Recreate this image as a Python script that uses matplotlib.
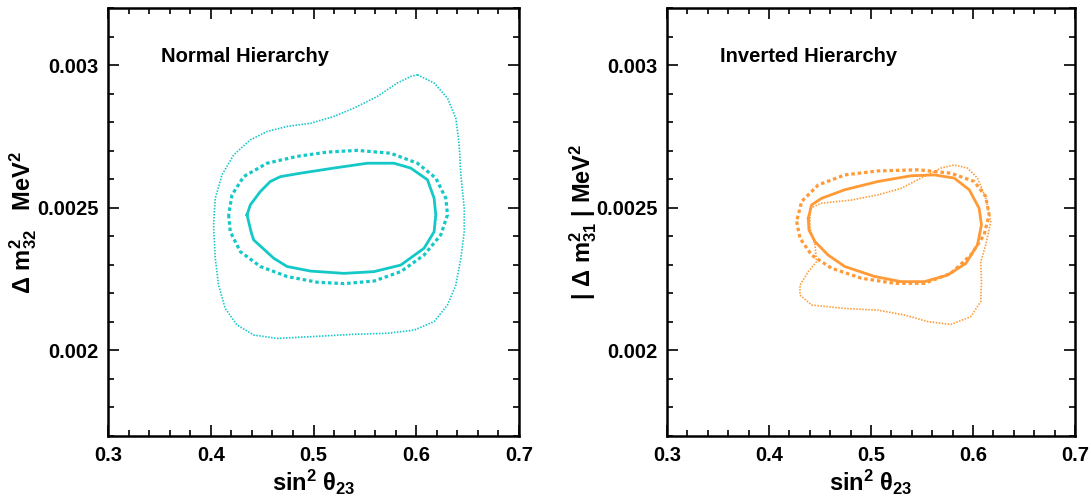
import numpy as np
import matplotlib
matplotlib.use("Agg")
import matplotlib.pyplot as plt
from matplotlib.ticker import MultipleLocator, FuncFormatter

plt.rcParams['font.family'] = ['Liberation Sans', 'DejaVu Sans']
plt.rcParams['font.weight'] = 'bold'
plt.rcParams['mathtext.fontset'] = 'custom'
plt.rcParams['mathtext.rm'] = 'Liberation Sans'
plt.rcParams['mathtext.it'] = 'Liberation Sans'
plt.rcParams['mathtext.bf'] = 'Liberation Sans:bold'

# contour points: sin^2(theta23), dm^2 [1e-3 eV^2]
# normal hierarchy
nh_solid_x = [0.4353, 0.4385, 0.4483, 0.458, 0.4678, 0.4873, 0.5198, 0.5524, 0.5783, 0.5946,
              0.6109, 0.6174, 0.619, 0.6174, 0.6076, 0.5849, 0.5588, 0.5296, 0.4971, 0.4743,
              0.4613, 0.4418, 0.4392]
nh_solid_y = [2.475, 2.510, 2.557, 2.592, 2.609, 2.621, 2.639, 2.656, 2.656, 2.639,
              2.598, 2.533, 2.475, 2.416, 2.358, 2.299, 2.276, 2.270, 2.278, 2.294,
              2.323, 2.387, 2.416]
nh_dash_x = [0.4174, 0.419, 0.4288, 0.4483, 0.4743, 0.5035, 0.5296, 0.5588, 0.5849, 0.6076,
             0.6239, 0.6304, 0.6288, 0.619, 0.6012, 0.5751, 0.5426, 0.5134, 0.4841, 0.4548,
             0.432, 0.4207]
nh_dash_y = [2.475, 2.416, 2.346, 2.294, 2.259, 2.239, 2.234, 2.243, 2.276, 2.334,
             2.405, 2.475, 2.533, 2.604, 2.656, 2.691, 2.701, 2.695, 2.680, 2.656,
             2.609, 2.545]
nh_dot_x = [0.6012, 0.6174, 0.6304, 0.6385, 0.6418, 0.6434, 0.6467, 0.6467, 0.6434, 0.6385,
            0.6304, 0.6174, 0.5979, 0.5719, 0.5361, 0.4971, 0.4646, 0.4418, 0.4256, 0.4141,
            0.4076, 0.4044, 0.4027, 0.4044, 0.4109, 0.4223, 0.4385, 0.4548, 0.4743, 0.4971,
            0.5198, 0.5393, 0.5621, 0.5816, 0.5946]
nh_dot_y = [2.966, 2.937, 2.884, 2.814, 2.720, 2.615, 2.498, 2.416, 2.323, 2.229,
            2.159, 2.101, 2.071, 2.060, 2.056, 2.048, 2.042, 2.054, 2.089, 2.147,
            2.229, 2.323, 2.440, 2.533, 2.615, 2.685, 2.738, 2.767, 2.785, 2.796,
            2.820, 2.849, 2.890, 2.937, 2.960]

# inverted hierarchy
ih_solid_x = [0.4385, 0.4418, 0.4515, 0.4743, 0.5068, 0.5393, 0.5621, 0.5816, 0.5963, 0.606,
              0.6083, 0.6044, 0.593, 0.5751, 0.5524, 0.5296, 0.5036, 0.4743, 0.458, 0.4451,
              0.4392]
ih_solid_y = [2.463, 2.510, 2.533, 2.563, 2.592, 2.612, 2.615, 2.604, 2.563, 2.498,
              2.440, 2.370, 2.305, 2.264, 2.241, 2.241, 2.259, 2.294, 2.334, 2.381,
              2.422]
ih_dash_x = [0.4271, 0.4304, 0.4418, 0.4613, 0.4905, 0.5231, 0.5524, 0.5783, 0.5978, 0.6109,
             0.6158, 0.6125, 0.6012, 0.5783, 0.5459, 0.5068, 0.4743, 0.4483, 0.432]
ih_dash_y = [2.452, 2.393, 2.334, 2.288, 2.253, 2.235, 2.235, 2.270, 2.334, 2.405,
             2.475, 2.539, 2.592, 2.621, 2.633, 2.629, 2.615, 2.580, 2.522]
ih_dot_x = [0.4402, 0.4515, 0.4808, 0.5068, 0.5296, 0.5491, 0.5686, 0.5816, 0.5946, 0.6044,
            0.6125, 0.6174, 0.6125, 0.6076, 0.6083, 0.6076, 0.5978, 0.5783, 0.5556, 0.5329,
            0.5068, 0.4743, 0.4418, 0.4304, 0.4304, 0.4385, 0.4466, 0.4451, 0.4402]
ih_dot_y = [2.498, 2.516, 2.527, 2.545, 2.568, 2.604, 2.639, 2.650, 2.639, 2.604,
            2.533, 2.452, 2.370, 2.311, 2.241, 2.171, 2.118, 2.091, 2.101, 2.124,
            2.141, 2.147, 2.159, 2.194, 2.229, 2.276, 2.311, 2.370, 2.428]

cyan = '#14C8C8'
orange = '#FF9A36'


def closed(x, y):
    x = np.append(x, x[0])
    y = np.append(y, y[0]) * 1e-3
    return x, y


def draw_panel(ax, curves, color, title, ylabel):
    (sx, sy), (dx, dy), (ox, oy) = curves
    ax.plot(*closed(ox, oy), color=color, lw=1.2, ls=(0, (0.9, 0.9)))
    ax.plot(*closed(dx, dy), color=color, lw=2.3, ls=(0, (1.1, 0.9)))
    ax.plot(*closed(sx, sy), color=color, lw=2.0, ls='-', solid_joinstyle='round')

    ax.set_xlim(0.3, 0.7)
    ax.set_ylim(0.0017, 0.0032)
    ax.xaxis.set_major_locator(MultipleLocator(0.1))
    ax.xaxis.set_minor_locator(MultipleLocator(0.02))
    ax.yaxis.set_major_locator(MultipleLocator(0.0005))
    ax.yaxis.set_minor_locator(MultipleLocator(0.0001))
    fmt = FuncFormatter(lambda v, p: f"{v:g}")
    ax.xaxis.set_major_formatter(fmt)
    ax.yaxis.set_major_formatter(fmt)
    ax.tick_params(which='both', direction='in', top=True, right=True, width=1.2)
    ax.tick_params(which='major', length=8, labelsize=14.5, pad=7)
    ax.tick_params(which='minor', length=4)
    for s in ax.spines.values():
        s.set_linewidth(1.8)

    ax.text(0.352, 0.00303, title, fontsize=14.5, fontweight='bold', va='center')
    ax.set_xlabel(r'sin$^{\mathbf{2}}$ $\theta_{\mathbf{23}}$', fontsize=17, fontweight='bold')
    ax.xaxis.set_label_coords(0.5, -0.075)
    ax.set_ylabel(ylabel, fontsize=17, fontweight='bold')
    ax.yaxis.set_label_coords(-0.167, 0.5)


fig = plt.figure(figsize=(10.91, 5.04), dpi=100)
ax1 = fig.add_axes([108 / 1091, 68 / 504, 411 / 1091, 428 / 504])
ax2 = fig.add_axes([667 / 1091, 68 / 504, 408 / 1091, 428 / 504])

draw_panel(ax1, [(nh_solid_x, nh_solid_y), (nh_dash_x, nh_dash_y), (nh_dot_x, nh_dot_y)],
           cyan, 'Normal Hierarchy',
           r'$\Delta\ \mathbf{m}^{\mathbf{2}}_{\mathbf{32}}$   MeV$^{\mathbf{2}}$')
draw_panel(ax2, [(ih_solid_x, ih_solid_y), (ih_dash_x, ih_dash_y), (ih_dot_x, ih_dot_y)],
           orange, 'Inverted Hierarchy',
           r'| $\Delta\ \mathbf{m}^{\mathbf{2}}_{\mathbf{31}}$ | MeV$^{\mathbf{2}}$')

fig.savefig('out.png', dpi=100)
